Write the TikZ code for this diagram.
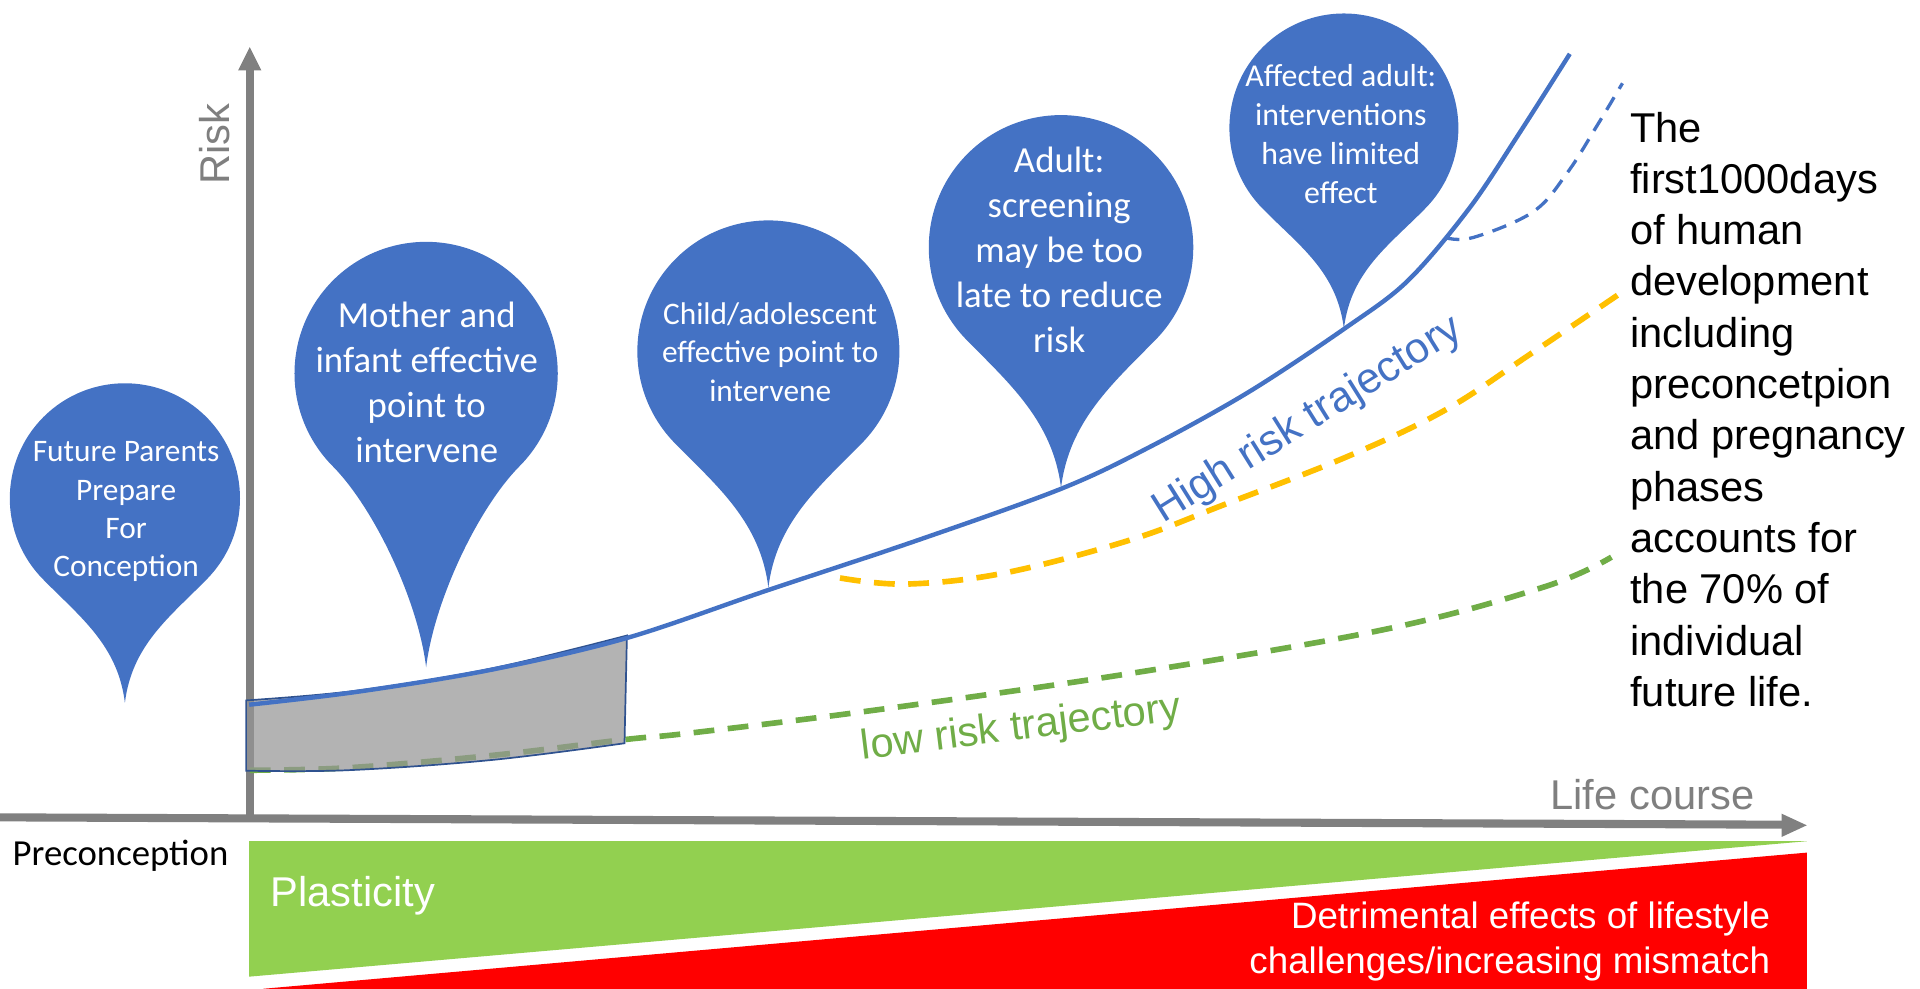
\documentclass[tikz,border=0pt]{standalone}
\usepackage{fontspec}
\setmainfont{Liberation Sans}
\newfontfamily\calib{Carlito}
\definecolor{pinblue}{HTML}{4472C4}
\definecolor{axisgray}{HTML}{808080}
\definecolor{txtgray}{HTML}{7F7F7F}
\definecolor{ygold}{HTML}{FFC000}
\definecolor{lgreen}{HTML}{70AD47}
\definecolor{bandgreen}{HTML}{92D050}
\definecolor{bandred}{HTML}{FF0000}
\definecolor{edgeblue}{HTML}{2F528F}
\definecolor{shadegray}{HTML}{969696}
\newcommand{\mypin}[4]{%
  \begin{scope}[shift={(#1,#2)}, x=0.5pt, y=0.5pt]
    \fill[pinblue] (0,-#4) .. controls (-0.06*#3,-#4+0.5*#3) and (-0.39*#3,-1.03*#3) .. (225:#3)
      arc[start angle=225, end angle=-45, radius=#3]
      .. controls (0.39*#3,-1.03*#3) and (0.06*#3,-#4+0.5*#3) .. (0,-#4) -- cycle;
  \end{scope}}
\begin{document}
\begin{tikzpicture}[x=0.5pt, y=-0.5pt,
  axisline/.style={draw=axisgray, line width=3.3pt},
  hirisk/.style={draw=pinblue, line width=1.8pt},
  golddash/.style={draw=ygold, line width=2.3pt, dash pattern=on 8.5pt off 5.5pt},
  greendash/.style={draw=lgreen, line width=2.3pt, dash pattern=on 8.5pt off 5.5pt},
  bluedash/.style={draw=pinblue, line width=1.35pt, dash pattern=on 6pt off 4pt},
  pintext/.style={text=white, align=center, inner sep=0pt},
  arialtxt/.style={inner sep=0pt, font=\fontsize{17}{20.9}\selectfont}]
\useasboundingbox (0,0) rectangle (1568,807);
% bottom bands
\fill[bandgreen] (203.5,687) -- (1475.5,687) -- (203.5,797.6) -- cycle;
\fill[bandred] (215,807.5) -- (1475.5,696.3) -- (1475.5,807.5) -- cycle;
% axes
\draw[axisline] (0,667.5) -- (1457,673.5);
\fill[axisgray] (1455,664.5) -- (1475.5,674) -- (1455,683.5) -- cycle;
\draw[axisline] (204,671) -- (204,56);
\fill[axisgray] (194.5,57.5) -- (204,38.5) -- (213.5,57.5) -- cycle;
% low risk trajectory
\draw[greendash] plot[smooth, tension=0.6] coordinates {(204,629) (284,627) (401,617) (510,604) (565,598.5) (714,580) (923,550) (1131,514) (1262,479) (1316,455)};
% shaded window
\filldraw[fill=shadegray, fill opacity=0.72, draw=edgeblue, line width=0.7pt]
  plot[smooth, tension=0.6] coordinates {(201,572) (291.5,564) (401,546) (512,519)}
  -- (510,607)
  -- plot[smooth, tension=0.6] coordinates {(510,607) (401,620.7) (284,629) (201,629.4)}
  -- cycle;
% high risk trajectory
\draw[hirisk] plot[smooth, tension=0.55] coordinates {(203.5,575.5) (291.5,565) (401,547) (512,521) (627,482) (750,441) (867,399) (939,365) (1020,320) (1100,267) (1150,229) (1200,170) (1240,110) (1282,44)};
% intermediate trajectory
\draw[golddash] plot[smooth, tension=0.6] coordinates {(686,472) (740,477) (820,468) (923,441) (1000,412) (1100,373) (1180,335) (1250,289) (1327,237)};
% blue dashed branch
\draw[bluedash] plot[smooth, tension=0.6] coordinates {(1180,194) (1203,194) (1252,173) (1280,141) (1304,103) (1325,68)};
% pins
\mypin{102}{407}{94}{167}
\mypin{348}{305}{107.5}{240}
\mypin{627.5}{287}{107}{193}
\mypin{866.5}{202}{108}{196.5}
\mypin{1097.5}{104.5}{93.5}{164}
\node[pintext, font=\calib\fontsize{12.8}{15.65}\selectfont] (p1) at (103,418) {Future Parents\\Prepare\\For\\Conception};
\node[pintext, font=\calib\fontsize{15}{18.4}\selectfont] (p2) at (348.5,312) {Mother and\\infant effective\\point to\\intervene};
\node[pintext, font=\calib\fontsize{12.8}{15.65}\selectfont] (p3) at (629,287.5) {Child/adolescent\\effective point to\\intervene};
\node[pintext, font=\calib\fontsize{15}{18.4}\selectfont] (p4) at (865,204) {Adult:\\screening\\may be too\\late to reduce\\risk};
\node[pintext, font=\calib\fontsize{13}{15.9}\selectfont] (p5) at (1095,109.4) {Affected adult:\\interventions\\have limited\\effect};
% axis labels
\node[arialtxt, text=txtgray, rotate=90] (risk) at (175,117.5) {Risk};
\node[arialtxt, text=txtgray, anchor=base east] (life) at (1433,661) {Life course};
\node[inner sep=0pt, anchor=base west, font=\calib\fontsize{15}{18}\selectfont] (precon) at (10,707) {Preconception};
% trajectory labels
\node[inner sep=0pt, text=pinblue, rotate=32, anchor=base, font=\fontsize{17.5}{21}\selectfont] (hilab) at (1073,351) {High risk trajectory};
\node[arialtxt, text=lgreen, rotate=7, anchor=base] (lolab) at (835,604) {low risk trajectory};
% band labels
\node[arialtxt, text=white, anchor=base west] (plast) at (220.6,740) {Plasticity};
\node[inner sep=0pt, text=white, anchor=base east, font=\fontsize{15}{18.5}\selectfont] (detr) at (1446,758)
  {\begin{tabular}[t]{@{}r@{}}Detrimental effects of lifestyle\\challenges/increasing mismatch\end{tabular}};
% side note
\node[inner sep=0pt, anchor=base west, font=\fontsize{17}{20.95}\selectfont] (note) at (1331,116)
  {\begin{tabular}[t]{@{}l@{}}The\\first1000days\\of human\\development\\including\\preconcetpion\\and pregnancy\\phases\\accounts for\\the 70\% of\\individual\\future life.\end{tabular}};
\end{tikzpicture}
\end{document}
